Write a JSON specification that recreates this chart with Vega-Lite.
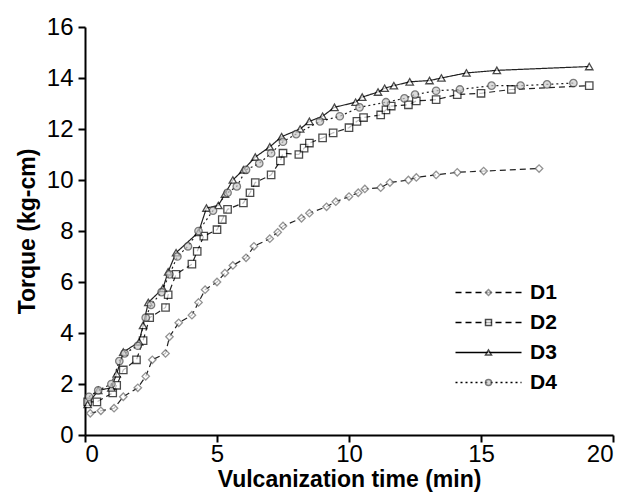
{
  "$schema": "https://vega.github.io/schema/vega-lite/v6.json",
  "autosize": {"type": "none"},
  "padding": {"left": 85, "top": 27, "right": 19, "bottom": 59},
  "width": 528,
  "height": 408,
  "background": "white",
  "config": {
    "font": "Liberation Sans",
    "view": {"stroke": null},
    "axis": {"grid": false, "domainColor": "black", "domainWidth": 2, "tickColor": "black", "tickWidth": 2, "tickSize": 7, "labelColor": "black", "labelFontSize": 24, "titleFontSize": 23, "titleFontWeight": "bold", "titleColor": "black", "labelFont": "Liberation Sans", "titleFont": "Liberation Sans"}
  },
  "datasets": {
    "curves": [
      {"s": "D1", "t": 0.2, "T": 0.85}, {"s": "D1", "t": 0.6, "T": 0.95}, {"s": "D1", "t": 1.1, "T": 1.05}, {"s": "D1", "t": 1.45, "T": 1.5}, {"s": "D1", "t": 2.0, "T": 1.85}, {"s": "D1", "t": 2.3, "T": 2.3}, {"s": "D1", "t": 2.55, "T": 2.95}, {"s": "D1", "t": 3.05, "T": 3.2}, {"s": "D1", "t": 3.2, "T": 3.85}, {"s": "D1", "t": 3.55, "T": 4.4}, {"s": "D1", "t": 4.05, "T": 4.7}, {"s": "D1", "t": 4.3, "T": 5.2}, {"s": "D1", "t": 4.55, "T": 5.7}, {"s": "D1", "t": 5.0, "T": 6.0}, {"s": "D1", "t": 5.3, "T": 6.35}, {"s": "D1", "t": 5.6, "T": 6.65}, {"s": "D1", "t": 6.1, "T": 6.95}, {"s": "D1", "t": 6.4, "T": 7.4}, {"s": "D1", "t": 7.0, "T": 7.7}, {"s": "D1", "t": 7.3, "T": 7.95}, {"s": "D1", "t": 7.5, "T": 8.2}, {"s": "D1", "t": 8.2, "T": 8.5}, {"s": "D1", "t": 8.5, "T": 8.7}, {"s": "D1", "t": 9.15, "T": 8.95}, {"s": "D1", "t": 9.5, "T": 9.15}, {"s": "D1", "t": 10.0, "T": 9.35}, {"s": "D1", "t": 10.35, "T": 9.5}, {"s": "D1", "t": 10.6, "T": 9.65}, {"s": "D1", "t": 11.2, "T": 9.7}, {"s": "D1", "t": 11.55, "T": 9.9}, {"s": "D1", "t": 12.25, "T": 10.0}, {"s": "D1", "t": 12.55, "T": 10.1}, {"s": "D1", "t": 13.3, "T": 10.2}, {"s": "D1", "t": 14.1, "T": 10.3}, {"s": "D1", "t": 15.1, "T": 10.35}, {"s": "D1", "t": 17.2, "T": 10.45},
      {"s": "D2", "t": 0.1, "T": 1.3}, {"s": "D2", "t": 0.45, "T": 1.3}, {"s": "D2", "t": 1.05, "T": 1.65}, {"s": "D2", "t": 1.2, "T": 1.95}, {"s": "D2", "t": 1.45, "T": 2.55}, {"s": "D2", "t": 1.95, "T": 2.95}, {"s": "D2", "t": 2.2, "T": 3.7}, {"s": "D2", "t": 2.45, "T": 4.6}, {"s": "D2", "t": 3.05, "T": 5.0}, {"s": "D2", "t": 3.15, "T": 5.5}, {"s": "D2", "t": 3.45, "T": 6.3}, {"s": "D2", "t": 4.05, "T": 6.7}, {"s": "D2", "t": 4.25, "T": 7.2}, {"s": "D2", "t": 4.5, "T": 7.8}, {"s": "D2", "t": 5.0, "T": 8.05}, {"s": "D2", "t": 5.2, "T": 8.45}, {"s": "D2", "t": 5.4, "T": 8.85}, {"s": "D2", "t": 6.0, "T": 9.1}, {"s": "D2", "t": 6.25, "T": 9.5}, {"s": "D2", "t": 6.45, "T": 9.9}, {"s": "D2", "t": 7.05, "T": 10.2}, {"s": "D2", "t": 7.4, "T": 10.75}, {"s": "D2", "t": 7.5, "T": 11.05}, {"s": "D2", "t": 8.1, "T": 11.0}, {"s": "D2", "t": 8.3, "T": 11.25}, {"s": "D2", "t": 8.5, "T": 11.45}, {"s": "D2", "t": 9.0, "T": 11.65}, {"s": "D2", "t": 9.4, "T": 11.85}, {"s": "D2", "t": 10.0, "T": 12.05}, {"s": "D2", "t": 10.3, "T": 12.3}, {"s": "D2", "t": 10.55, "T": 12.45}, {"s": "D2", "t": 11.2, "T": 12.55}, {"s": "D2", "t": 11.4, "T": 12.75}, {"s": "D2", "t": 11.6, "T": 12.9}, {"s": "D2", "t": 12.25, "T": 12.95}, {"s": "D2", "t": 12.55, "T": 13.1}, {"s": "D2", "t": 13.3, "T": 13.15}, {"s": "D2", "t": 14.1, "T": 13.35}, {"s": "D2", "t": 15.0, "T": 13.4}, {"s": "D2", "t": 16.15, "T": 13.55}, {"s": "D2", "t": 19.1, "T": 13.7},
      {"s": "D3", "t": 0.1, "T": 1.2}, {"s": "D3", "t": 0.5, "T": 1.75}, {"s": "D3", "t": 1.0, "T": 1.85}, {"s": "D3", "t": 1.2, "T": 2.4}, {"s": "D3", "t": 1.45, "T": 3.25}, {"s": "D3", "t": 2.05, "T": 3.65}, {"s": "D3", "t": 2.2, "T": 4.3}, {"s": "D3", "t": 2.4, "T": 5.2}, {"s": "D3", "t": 2.95, "T": 5.75}, {"s": "D3", "t": 3.15, "T": 6.4}, {"s": "D3", "t": 3.45, "T": 7.15}, {"s": "D3", "t": 4.3, "T": 7.95}, {"s": "D3", "t": 4.6, "T": 8.9}, {"s": "D3", "t": 5.05, "T": 9.0}, {"s": "D3", "t": 5.3, "T": 9.45}, {"s": "D3", "t": 5.6, "T": 10.0}, {"s": "D3", "t": 6.0, "T": 10.4}, {"s": "D3", "t": 6.45, "T": 10.9}, {"s": "D3", "t": 7.0, "T": 11.3}, {"s": "D3", "t": 7.45, "T": 11.7}, {"s": "D3", "t": 8.15, "T": 12.0}, {"s": "D3", "t": 8.5, "T": 12.3}, {"s": "D3", "t": 9.0, "T": 12.5}, {"s": "D3", "t": 9.45, "T": 12.85}, {"s": "D3", "t": 10.25, "T": 13.05}, {"s": "D3", "t": 10.5, "T": 13.25}, {"s": "D3", "t": 11.1, "T": 13.45}, {"s": "D3", "t": 11.35, "T": 13.6}, {"s": "D3", "t": 11.7, "T": 13.7}, {"s": "D3", "t": 12.3, "T": 13.85}, {"s": "D3", "t": 13.05, "T": 13.9}, {"s": "D3", "t": 13.5, "T": 14.0}, {"s": "D3", "t": 14.45, "T": 14.2}, {"s": "D3", "t": 15.6, "T": 14.3}, {"s": "D3", "t": 19.1, "T": 14.45},
      {"s": "D4", "t": 0.15, "T": 1.5}, {"s": "D4", "t": 0.5, "T": 1.75}, {"s": "D4", "t": 1.0, "T": 2.0}, {"s": "D4", "t": 1.3, "T": 2.9}, {"s": "D4", "t": 1.5, "T": 3.2}, {"s": "D4", "t": 2.0, "T": 3.5}, {"s": "D4", "t": 2.3, "T": 4.6}, {"s": "D4", "t": 2.5, "T": 5.1}, {"s": "D4", "t": 2.9, "T": 5.6}, {"s": "D4", "t": 3.2, "T": 6.3}, {"s": "D4", "t": 3.5, "T": 7.0}, {"s": "D4", "t": 3.9, "T": 7.4}, {"s": "D4", "t": 4.3, "T": 8.0}, {"s": "D4", "t": 4.85, "T": 8.8}, {"s": "D4", "t": 5.4, "T": 9.5}, {"s": "D4", "t": 5.75, "T": 9.75}, {"s": "D4", "t": 6.1, "T": 10.4}, {"s": "D4", "t": 6.6, "T": 10.65}, {"s": "D4", "t": 7.05, "T": 11.05}, {"s": "D4", "t": 7.5, "T": 11.5}, {"s": "D4", "t": 8.0, "T": 11.8}, {"s": "D4", "t": 8.9, "T": 12.3}, {"s": "D4", "t": 9.65, "T": 12.5}, {"s": "D4", "t": 10.4, "T": 12.85}, {"s": "D4", "t": 11.4, "T": 13.05}, {"s": "D4", "t": 12.1, "T": 13.2}, {"s": "D4", "t": 12.5, "T": 13.35}, {"s": "D4", "t": 13.3, "T": 13.5}, {"s": "D4", "t": 14.2, "T": 13.55}, {"s": "D4", "t": 15.4, "T": 13.7}, {"s": "D4", "t": 16.5, "T": 13.7}, {"s": "D4", "t": 17.5, "T": 13.75}, {"s": "D4", "t": 18.5, "T": 13.8}
    ]
  },
  "data": {"name": "curves"},
  "encoding": {
    "x": {"field": "t", "type": "quantitative", "scale": {"domain": [0, 20], "nice": false}, "axis": {"values": [0, 5, 10, 15, 20], "title": "Vulcanization time (min)", "titlePadding": 2, "labelPadding": 0}},
    "y": {"field": "T", "type": "quantitative", "scale": {"domain": [0, 16], "nice": false}, "axis": {"values": [0, 2, 4, 6, 8, 10, 12, 14, 16], "title": "Torque (kg-cm)", "titlePadding": 7, "labelPadding": 5}}
  },
  "layer": [
    {
      "mark": {"type": "line", "color": "#222222", "strokeWidth": 1.2},
      "encoding": {
        "detail": {"field": "s"},
        "strokeDash": {"field": "s", "type": "nominal", "scale": {"range": [[6, 4], [6, 4], [1, 0], [2, 3]]},
          "legend": {"orient": "none", "legendX": 393, "legendY": 255, "title": null, "symbolType": "M-11,0H11", "symbolSize": 36, "symbolStrokeWidth": 1.5, "symbolStrokeColor": "black", "symbolFillColor": "transparent", "labelFontSize": 21, "labelFontWeight": "bold", "labelColor": "black", "labelOffset": 31, "rowPadding": 8}}
      }
    },
    {
      "mark": {"type": "point", "filled": true, "strokeWidth": 1.3, "size": 55},
      "encoding": {
        "shape": {"field": "s", "type": "nominal", "scale": {"domain": ["D1", "D2", "D3", "D4"], "range": ["diamond", "square", "triangle-up", "circle"]},
          "legend": {"orient": "none", "legendX": 393, "legendY": 255, "title": null, "symbolSize": 36, "symbolFillColor": "white", "symbolStrokeColor": "black", "symbolStrokeWidth": 1.5, "labelFontSize": 21, "labelFontWeight": "bold", "labelOpacity": 0, "labelOffset": 31, "rowPadding": 8}},
        "stroke": {"field": "s", "type": "nominal", "scale": {"domain": ["D1", "D2", "D3", "D4"], "range": ["#666666", "black", "black", "#444444"]}, "legend": null},
        "fill": {"field": "s", "type": "nominal", "scale": {"domain": ["D1", "D2", "D3", "D4"], "range": ["white", "white", "white", "#cccccc"]}, "legend": null}
      }
    }
  ]
}
